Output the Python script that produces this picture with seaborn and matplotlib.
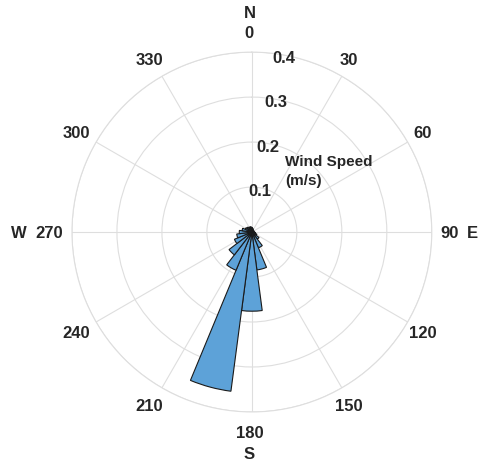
import matplotlib
matplotlib.use("Agg")
import matplotlib.pyplot as plt
import matplotlib.transforms as mtransforms
import seaborn as sns
import numpy as np

# direction bins (deg, centre) and mean wind speed per bin (m/s)
directions = [0, 15, 30, 45, 60, 75, 90, 105, 120, 135, 150, 165,
              180, 195, 210, 225, 240, 255, 270, 285, 300, 315, 330, 345]
speeds = [0.010, 0.008, 0.006, 0.005, 0.005, 0.005, 0.006, 0.008, 0.012, 0.020, 0.038, 0.085,
          0.176, 0.357, 0.092, 0.064, 0.042, 0.034, 0.028, 0.022, 0.016, 0.014, 0.012, 0.012]
r_ticks = [0.1, 0.2, 0.3, 0.4]
theta_ticks = list(range(0, 360, 30))
compass = {"N": 0, "E": 90, "S": 180, "W": 270}

sns.set_style("white")
plt.rcParams["font.family"] = ["Liberation Sans", "DejaVu Sans"]
plt.rcParams["font.weight"] = "bold"

txt = "#262626"
bar_color = "#5DA2D8"

fig = plt.figure(figsize=(4.83, 4.68), dpi=100)
ax = fig.add_axes([0.149, 0.1197, 0.745, 0.769], projection="polar")
ax.set_theta_zero_location("N")
ax.set_theta_direction(-1)

ax.bar(np.deg2rad(directions), speeds, width=np.deg2rad(15),
       color=bar_color, edgecolor="#1a1a1a", linewidth=0.8, zorder=3)

ax.set_ylim(0, 0.4)
ax.set_yticks(r_ticks)
ax.set_yticklabels([])
for v in r_ticks:
    ax.text(np.deg2rad(10.5), v - 0.008, f"{v:.1f}", ha="center", va="center",
            fontsize=12, fontweight="bold", color=txt, zorder=5)

ax.set_xticks(np.deg2rad(theta_ticks))
ax.set_xticklabels([])
shift = mtransforms.offset_copy(ax.transData, fig=fig, x=-2.5, y=-1.5, units="dots")
for t in theta_ticks:
    ax.text(np.deg2rad(t), 0.444, str(t), transform=shift, ha="center", va="center",
            fontsize=12, fontweight="bold", color=txt, clip_on=False)

ax.grid(True, color="#dedede", linewidth=0.8)
ax.spines["polar"].set_color("#dedede")
ax.spines["polar"].set_linewidth(0.8)

offsets = {"N": 0.489, "E": 0.497, "S": 0.491, "W": 0.513}
for lab, ang in compass.items():
    ax.text(np.deg2rad(ang), offsets[lab], lab, transform=shift, ha="center", va="center",
            fontsize=12, fontweight="bold", color=txt, clip_on=False)

ax.text(0.592, 0.668, "Wind Speed\n(m/s)", transform=ax.transAxes, ha="left", va="center",
        fontsize=11, fontweight="bold", color=txt, linespacing=1.4)

fig.savefig("out.png", dpi=100)
